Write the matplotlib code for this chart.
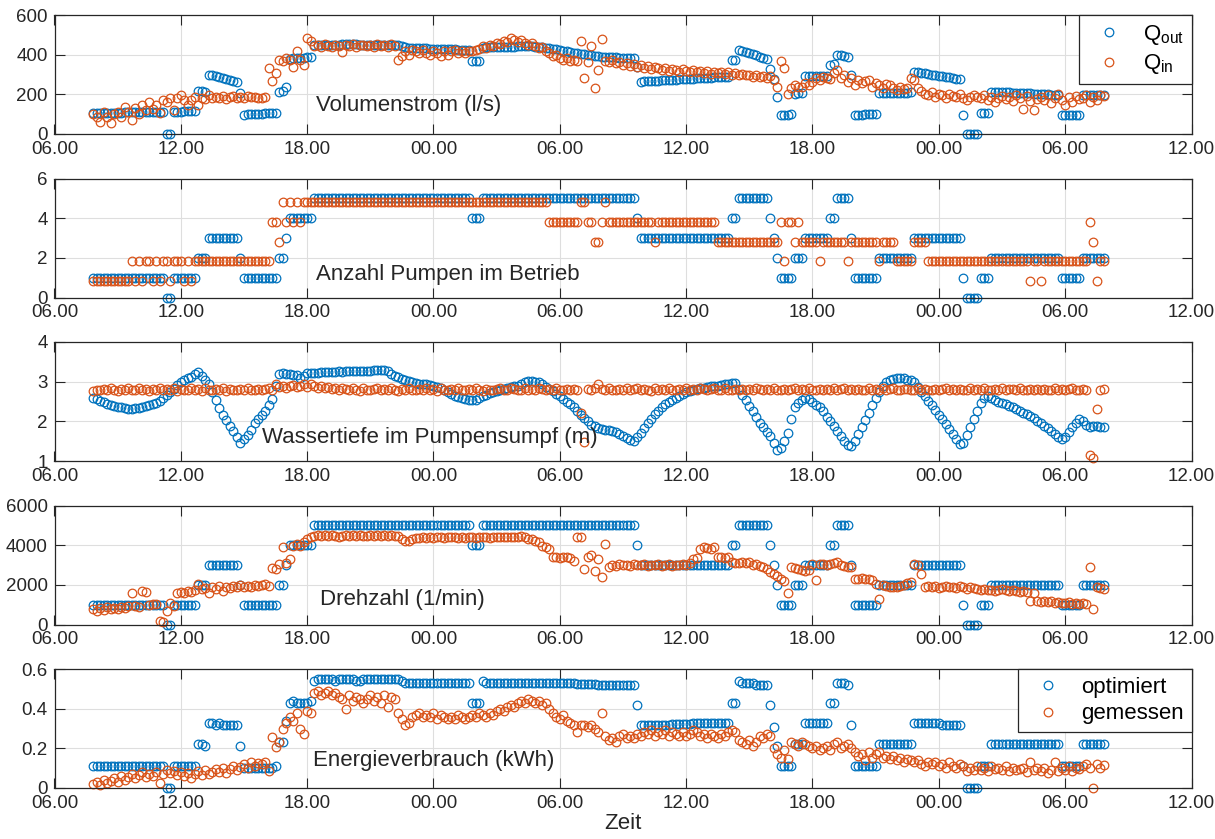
import numpy as np
import matplotlib.pyplot as plt

plt.rcParams['font.family'] = ['Liberation Sans', 'DejaVu Sans']

# Messraster: alle 10 Minuten ab 07:50 (Stunden ab Tag 1, 00:00)
T_START = 7 + 50 / 60
T_STEP = 1 / 6

X_TICKS = [6, 12, 18, 24, 30, 36, 42, 48, 54, 60]
X_LABELS = ['06.00', '12.00', '18.00', '00.00', '06.00', '12.00', '18.00', '00.00', '06.00', '12.00']

# Volumenstrom (l/s)
Q_OUT = """
105 105 106 106 107 107
108 108 108 109 109 110
110 110 111 111 111 112
112 112 112 0 0 113
113 113 114 114 115 115
218 216 214 300 296 291
287 282 277 272 267 262
205 98 99 100 101 102
103 104 105 106 108 212
215 235 380 382 383 384
385 386 387 448 449 450
450 450 451 451 451 452
452 452 452 452 451 451
451 451 450 450 450 450
449 449 448 448 445 440
436 434 433 433 432 432
431 431 430 430 429 428
428 427 426 425 424 424
370 369 368 436 437 437
438 438 439 440 440 441
441 442 442 443 443 442
441 440 438 436 433 430
427 424 420 417 413 410
407 404 401 398 396 394
392 390 389 388 387 386
385 384 383 382 381 340
264 265 266 267 268 269
270 271 272 273 274 275
276 277 278 279 280 281
282 283 284 285 286 287
288 289 372 375 425 420
414 408 402 396 390 384
378 330 275 185 97 98
98 99 204 205 205 290
290 291 292 293 293 294
350 355 398 396 392 388
298 96 97 98 99 100
100 101 205 206 206 207
207 208 208 209 209 210
315 312 309 306 303 300
297 294 291 288 285 282
279 276 94 0 0 0
0 104 105 106 214 213
212 211 211 210 209 208
207 206 205 205 204 203
202 201 200 199 198 197
94 94 95 95 96 96
196 196 197 197 198 198
198
"""

Q_IN = """
100 85 60 110 85 55
100 110 85 135 110 70
130 100 145 120 160 128
145 105 170 160 180 120
180 195 170 145 170 185
145 180 178 195 182 187
180 190 178 185 190 183
185 180 190 185 188 180
180 185 332 265 306 374
366 383 374 340 417 374
349 485 468 443 450 440
452 445 438 450 446 415
448 442 455 440 447 451
443 450 438 452 445 449
441 455 446 374 391 417
400 425 417 408 425 408
400 417 408 391 417 400
417 425 410 417 408 420
417 425 430 442 436 451
445 459 452 468 462 485
476 465 472 460 451 458
445 434 440 417 410 391
400 383 374 383 366 374
370 468 281 365 443 233
323 477 370 362 375 358
365 350 360 345 352 340
348 335 342 330 338 332
325 335 320 330 322 315
328 318 312 325 315 320
310 318 305 315 308 312
305 312 300 308 296 302
295 300 288 296 285 290
282 290 272 238 366 332
204 230 247 238 238 255
245 262 281 272 289 281
275 306 323 281 295 264
281 247 272 255 265 272
238 255 245 230 250 247
230 221 238 225 232 281
272 230 215 204 196 213
187 204 195 179 204 190
187 204 179 170 187 196
185 179 196 170 187 162
179 192 175 185 168 196
180 128 190 165 119 178
185 170 196 158 179 204
170 145 187 162 190 175
179 196 162 187 172 196
190
"""

# Anzahl Pumpen im Betrieb (optimiert: ganze Zahlen, gemessen: Stufencode)
PUMPEN_OPT = """
111111 111111 111111 111001 111111 222333 333333 211111 111112 234444
444555 555555 555555 555555 555555 555555 555555 555555 444555 555555
555555 555555 555555 555555 555555 555554 333333 333333 333333 333333
334455 555555 543211 112223 333333 445555 311111 112222 222222 333333
333333 331000 011122 222222 222222 222222 111111 222222 2
"""

PUMPEN_IN = """
111111 111112 121221 212212 221212 222222 222222 222222 222443 545454
555555 555555 555555 555555 555555 555555 555555 555555 555555 555555
555555 555544 444444 455443 345444 444444 444434 444444 444444 444433
333333 333333 333342 443433 333233 333332 333333 332333 322222 333322
222222 222222 222222 222222 222122 122222 222222 224312 2
"""
PUMPEN_IN_STUFEN = {'1': 0.82, '2': 1.82, '3': 2.82, '4': 3.82, '5': 4.82}

# Wassertiefe im Pumpensumpf (m)
TIEFE_OPT = """
2.60 2.56 2.52 2.48 2.44 2.41
2.39 2.37 2.35 2.34 2.32 2.32
2.33 2.34 2.36 2.38 2.41 2.44
2.47 2.51 2.58 2.66 2.73 2.82
2.91 3.00 3.05 3.09 3.13 3.20
3.25 3.15 3.05 2.94 2.75 2.55
2.33 2.17 2.03 1.89 1.75 1.60
1.45 1.55 1.66 1.78 1.96 2.06
2.16 2.26 2.40 2.56 2.90 3.20
3.22 3.20 3.19 3.18 3.17 3.10
3.15 3.22 3.23 3.22 3.23 3.24
3.24 3.25 3.24 3.25 3.26 3.25
3.26 3.26 3.27 3.26 3.27 3.28
3.28 3.28 3.29 3.29 3.30 3.29
3.26 3.20 3.15 3.11 3.07 3.04
3.01 2.98 2.97 2.95 2.94 2.93
2.91 2.90 2.87 2.83 2.79 2.75
2.69 2.64 2.61 2.58 2.56 2.54
2.53 2.55 2.59 2.64 2.67 2.71
2.74 2.77 2.79 2.81 2.84 2.86
2.88 2.90 2.94 2.98 3.02 3.02
3.00 2.98 2.93 2.87 2.81 2.76
2.70 2.64 2.57 2.50 2.43 2.35
2.26 2.17 2.09 2.01 1.92 1.88
1.84 1.80 1.79 1.77 1.75 1.72
1.67 1.63 1.59 1.54 1.50 1.60
1.70 1.84 1.95 2.07 2.18 2.27
2.35 2.43 2.49 2.55 2.60 2.65
2.69 2.73 2.76 2.79 2.81 2.83
2.85 2.86 2.88 2.89 2.90 2.92
2.93 2.94 2.96 2.97 2.81 2.67
2.53 2.39 2.25 2.11 1.97 1.86
1.74 1.63 1.45 1.27 1.32 1.50
1.70 2.05 2.35 2.45 2.55 2.60
2.57 2.50 2.42 2.35 2.25 2.12
2.00 1.88 1.75 1.62 1.50 1.40
1.37 1.50 1.68 1.86 2.04 2.22
2.40 2.58 2.75 2.90 3.00 3.05
3.07 3.10 3.08 3.09 3.05 3.03
2.98 2.87 2.75 2.64 2.52 2.40
2.29 2.17 2.05 1.93 1.81 1.68
1.55 1.42 1.45 1.65 1.85 2.05
2.25 2.45 2.60 2.63 2.60 2.55
2.50 2.47 2.43 2.39 2.35 2.31
2.27 2.22 2.18 2.14 2.08 2.02
1.95 1.88 1.82 1.75 1.68 1.60
1.55 1.60 1.72 1.85 1.95 2.05
2.00 1.90 1.85 1.88 1.87 1.86
1.85
"""

TIEFE_IN = """
2.76 2.80 2.78 2.82 2.79 2.83
2.80 2.77 2.82 2.79 2.84 2.80
2.78 2.83 2.79 2.81 2.77 2.82
2.80 2.84 2.78 2.81 2.79 2.83
2.77 2.82 2.80 2.78 2.83 2.79
2.81 2.77 2.84 2.80 2.78 2.82
2.79 2.83 2.77 2.81 2.80 2.78
2.82 2.79 2.83 2.78 2.80 2.82
2.79 2.81 2.84 2.80 2.95 2.86
2.90 2.84 2.88 2.92 2.86 2.89
2.93 2.87 2.95 2.90 2.85 2.88
2.84 2.87 2.82 2.85 2.80 2.83
2.82 2.79 2.84 2.80 2.77 2.83
2.80 2.78 2.82 2.85 2.79 2.81
2.78 2.83 2.80 2.77 2.82 2.79
2.84 2.80 2.78 2.82 2.79 2.83
2.79 2.81 2.77 2.83 2.80 2.78
2.82 2.79 2.84 2.80 2.78 2.81
2.80 2.83 2.79 2.77 2.82 2.80
2.78 2.81 2.83 2.79 2.80 2.84
2.81 2.78 2.80 2.83 2.79 2.82
2.79 2.84 2.81 2.78 2.82 2.80
2.83 2.79 2.80 2.82 2.78 2.81
2.80 2.22 1.49 2.82 2.79 2.83
2.94 2.81 2.78 2.83 2.80 2.79
2.82 2.80 2.84 2.78 2.81 2.83
2.79 2.82 2.80 2.77 2.83 2.80
2.81 2.78 2.83 2.80 2.79 2.82
2.80 2.83 2.79 2.81 2.78 2.84
2.82 2.79 2.81 2.84 2.80 2.78
2.83 2.80 2.78 2.82 2.79 2.81
2.80 2.82 2.79 2.83 2.81 2.78
2.82 2.79 2.84 2.80 2.78 2.82
2.79 2.81 2.83 2.78 2.82 2.80
2.83 2.79 2.80 2.82 2.78 2.81
2.80 2.84 2.79 2.81 2.83 2.78
2.81 2.78 2.82 2.80 2.79 2.83
2.79 2.82 2.80 2.84 2.78 2.81
2.83 2.80 2.78 2.81 2.82 2.79
2.80 2.83 2.79 2.82 2.80 2.78
2.82 2.79 2.81 2.84 2.79 2.81
2.78 2.82 2.80 2.79 2.83 2.80
2.81 2.79 2.83 2.80 2.78 2.82
2.80 2.84 2.79 2.81 2.82 2.78
2.83 2.80 2.78 2.82 2.79 2.81
2.79 2.82 2.80 2.78 2.83 2.80
2.82 2.79 2.81 2.83 2.80 2.78
2.81 2.79 1.15 1.07 2.30 2.79
2.81
"""

# Drehzahl (1/min); optimiert in 1000 1/min
DREHZAHL_OPT_K = """
111111 111111 111111 111001 111111 222333 333333 211111 111112 234444
444555 555555 555555 555555 555555 555555 555555 555555 444555 555555
555555 555555 555555 555555 555555 555554 333333 333333 333333 333333
334455 555555 543211 112223 333333 445555 311111 112222 222222 333333
333333 331000 011122 222222 222222 222222 111111 222222 2
"""

DREHZAHL_IN = """
760 700 820 740 880 780
850 760 900 820 950 1580
930 880 1700 1650 980 1020
1050 170 150 680 1100 950
1600 1650 1580 1700 1620 1750
2030 1780 1850 1600 1900 1800
1950 1700 1880 1820 1950 1900
2000 1870 1950 1900 2000 1950
2000 2050 1950 2870 2800 3050
3890 3100 3300 3970 4050 3950
4150 4300 4400 4480 4500 4470
4490 4460 4500 4480 4400 4470
4500 4460 4490 4470 4510 4480
4460 4500 4480 4520 4470 4490
4480 4510 4470 4450 4300 4200
4230 4300 4350 4380 4400 4380
4400 4370 4410 4390 4380 4400
4390 4410 4380 4400 4370 4390
4410 4380 4400 4420 4390 4380
4400 4420 4390 4410 4430 4400
4420 4400 4440 4410 4310 4300
4220 4140 3970 3890 3800 3400
3380 3370 3390 3380 3360 3210
4390 4400 2790 3400 3500 2700
3300 2380 4080 2890 3000 2950
3060 2980 3000 2950 3040 2990
3000 3050 2960 3020 2980 3040
2970 3000 3060 2950 3010 2990
3050 2980 3100 3300 3350 3800
3900 3880 3820 3900 3400 3380
3350 3400 3150 3120 3100 3150
3100 3130 3000 3050 2950 2900
2800 2630 2550 2450 2300 2200
1600 2900 2850 2800 2750 2720
2750 3060 2260 3050 3060 3000
3060 3100 3140 3000 2950 2900
2900 2300 2300 2320 2280 2300
2250 2040 1275 2000 1950 1870
1900 1880 1950 2000 2080 2130
3060 2980 2550 1900 1950 1870
1920 1850 1900 1960 1880 1900
1850 1920 1880 1800 1900 1850
1780 1750 1800 1720 1760 1700
1750 1780 1720 1680 1760 1700
1650 1700 1620 1190 1600 1180
1150 1190 1120 1170 1100 1150
1100 1080 1120 1050 1100 1020
1060 1050 2890 765 1870 1820
1790
"""

# Energieverbrauch (kWh)
ENERGIE_OPT = """
0.11 0.11 0.11 0.11 0.11 0.11
0.11 0.11 0.11 0.11 0.11 0.11
0.11 0.11 0.11 0.11 0.11 0.11
0.11 0.11 0.11 0 0 0.11
0.11 0.11 0.11 0.11 0.11 0.11
0.22 0.22 0.21 0.33 0.33 0.32
0.33 0.32 0.32 0.32 0.32 0.32
0.21 0.10 0.10 0.10 0.10 0.10
0.10 0.10 0.10 0.10 0.11 0.23
0.23 0.34 0.43 0.44 0.43 0.43
0.43 0.43 0.44 0.54 0.55 0.55
0.55 0.55 0.55 0.54 0.55 0.55
0.55 0.55 0.55 0.54 0.54 0.55
0.55 0.55 0.55 0.55 0.55 0.55
0.55 0.55 0.55 0.55 0.54 0.53
0.53 0.53 0.53 0.53 0.53 0.53
0.53 0.53 0.53 0.53 0.53 0.53
0.53 0.53 0.53 0.53 0.53 0.53
0.43 0.43 0.43 0.54 0.53 0.53
0.53 0.53 0.53 0.53 0.53 0.53
0.53 0.53 0.53 0.53 0.53 0.53
0.53 0.53 0.53 0.53 0.53 0.53
0.53 0.53 0.53 0.53 0.53 0.53
0.525 0.525 0.525 0.525 0.525 0.525
0.52 0.52 0.52 0.52 0.52 0.52
0.52 0.52 0.52 0.52 0.52 0.42
0.32 0.32 0.32 0.32 0.32 0.32
0.32 0.32 0.32 0.325 0.325 0.325
0.325 0.325 0.325 0.33 0.33 0.33
0.33 0.33 0.33 0.33 0.33 0.33
0.33 0.33 0.43 0.43 0.54 0.53
0.53 0.53 0.53 0.52 0.52 0.52
0.52 0.42 0.31 0.21 0.11 0.11
0.11 0.11 0.22 0.22 0.22 0.33
0.33 0.33 0.33 0.33 0.33 0.33
0.43 0.43 0.53 0.53 0.53 0.52
0.32 0.11 0.11 0.11 0.11 0.11
0.11 0.11 0.22 0.22 0.22 0.22
0.22 0.22 0.22 0.22 0.22 0.22
0.33 0.33 0.33 0.33 0.33 0.33
0.33 0.33 0.32 0.32 0.32 0.32
0.32 0.32 0.11 0 0 0
0 0.11 0.11 0.11 0.22 0.22
0.22 0.22 0.22 0.22 0.22 0.22
0.22 0.22 0.22 0.22 0.22 0.22
0.22 0.22 0.22 0.22 0.22 0.22
0.11 0.11 0.11 0.11 0.11 0.11
0.22 0.22 0.22 0.22 0.22 0.22
0.22
"""

ENERGIE_IN = """
0.02 0.03 0.015 0.04 0.025 0.035
0.05 0.03 0.06 0.04 0.055 0.07
0.05 0.065 0.08 0.055 0.07 0.06
0.08 0.025 0.07 0.09 0.075 0.085
0.065 0.08 0.06 0.075 0.05 0.07
0.085 0.065 0.09 0.07 0.08 0.095
0.08 0.10 0.075 0.095 0.11 0.09
0.105 0.12 0.10 0.13 0.11 0.125
0.12 0.13 0.085 0.255 0.205 0.23
0.30 0.33 0.36 0.34 0.38 0.30
0.27 0.39 0.38 0.48 0.49 0.47
0.48 0.49 0.47 0.48 0.46 0.45
0.40 0.47 0.44 0.46 0.45 0.43
0.45 0.47 0.44 0.46 0.43 0.47
0.41 0.46 0.45 0.38 0.35 0.32
0.33 0.36 0.37 0.38 0.36 0.37
0.36 0.38 0.35 0.37 0.36 0.35
0.36 0.35 0.37 0.36 0.35 0.36
0.37 0.36 0.38 0.37 0.36 0.38
0.37 0.39 0.40 0.39 0.41 0.42
0.41 0.43 0.44 0.43 0.45 0.44
0.43 0.44 0.42 0.43 0.40 0.38
0.36 0.35 0.37 0.34 0.33 0.32
0.28 0.32 0.32 0.31 0.32 0.30
0.28 0.38 0.26 0.24 0.25 0.23
0.26 0.27 0.25 0.26 0.25 0.27
0.26 0.28 0.27 0.29 0.26 0.28
0.27 0.29 0.26 0.28 0.27 0.26
0.28 0.26 0.27 0.29 0.28 0.26
0.27 0.25 0.27 0.26 0.25 0.27
0.26 0.28 0.29 0.28 0.24 0.23
0.22 0.24 0.21 0.23 0.26 0.25
0.27 0.26 0.20 0.17 0.15 0.19
0.145 0.23 0.22 0.21 0.23 0.22
0.21 0.20 0.21 0.19 0.20 0.21
0.19 0.22 0.23 0.20 0.21 0.22
0.20 0.18 0.16 0.17 0.14 0.18
0.15 0.17 0.18 0.15 0.16 0.145
0.16 0.14 0.15 0.13 0.145 0.14
0.13 0.14 0.12 0.11 0.13 0.12
0.13 0.11 0.12 0.10 0.13 0.11
0.10 0.12 0.11 0.085 0.10 0.09
0.11 0.09 0.10 0.085 0.11 0.095
0.10 0.09 0.11 0.085 0.10 0.09
0.095 0.10 0.08 0.13 0.09 0.10
0.085 0.10 0.075 0.09 0.13 0.085
0.10 0.09 0.11 0.085 0.10 0.095
0.11 0.12 0.10 0.0 0.12 0.10
0.115
"""

BLAU = '#0072BD'
ORANGE = '#D95319'
DUNKEL = '#262626'


def zahlen(s):
    return np.array(s.split(), dtype=float)


def ziffern(s, stufen=None):
    s = s.replace(' ', '').replace('\n', '')
    if stufen:
        return np.array([stufen[c] for c in s])
    return np.array([int(c) for c in s], dtype=float)


def zeit(y):
    return T_START + np.arange(len(y)) * T_STEP


def punkte(ax, y, farbe, label=None):
    ax.plot(zeit(y), y, ls='none', marker='o', mfc='none', mec=farbe,
            ms=6.2, mew=0.9, clip_on=False, label=label)


def stil(ax, ylim, yticks, ylabels):
    ax.set_xlim(6, 60)
    ax.set_ylim(*ylim)
    ax.set_xticks(X_TICKS)
    ax.set_xticklabels(X_LABELS)
    ax.set_yticks(yticks)
    ax.set_yticklabels(ylabels)
    ax.grid(True, color='#dedede', lw=0.8)
    ax.set_axisbelow(True)
    ax.tick_params(direction='in', length=7.5, width=0.8, top=True, right=True,
                   labelsize=13.5, colors=DUNKEL, pad=5)
    for sp in ax.spines.values():
        sp.set_color(DUNKEL)
        sp.set_linewidth(0.9)


def legende(ax, eintraege):
    leg = ax.legend(loc='upper right', borderaxespad=0, fancybox=False,
                    edgecolor=DUNKEL, framealpha=1, fontsize=16,
                    handletextpad=0.5, borderpad=0.35, labelspacing=0.25)
    leg.get_frame().set_linewidth(0.9)
    return leg


fig = plt.figure(figsize=(12.15, 8.39), dpi=100)
W, H = 1215, 839
links, rechts = 54.5, 1191.5
hoehe = 119
oben = [15, 178.5, 342, 505.5, 669]
achsen = [fig.add_axes([links / W, 1 - (o + hoehe) / H, (rechts - links) / W, hoehe / H])
          for o in oben]
ax1, ax2, ax3, ax4, ax5 = achsen

# Volumenstrom
punkte(ax1, zahlen(Q_OUT), BLAU, r'Q$_\mathregular{out}$')
punkte(ax1, zahlen(Q_IN), ORANGE, r'Q$_\mathregular{in}$')
stil(ax1, (0, 600), [0, 200, 400, 600], ['0', '200', '400', '600'])
ax1.text(18.4, 145, 'Volumenstrom (l/s)', fontsize=16, va='center', color=DUNKEL)
legende(ax1, None)

# Pumpen
punkte(ax2, ziffern(PUMPEN_OPT), BLAU)
punkte(ax2, ziffern(PUMPEN_IN, PUMPEN_IN_STUFEN), ORANGE)
stil(ax2, (0, 6), [0, 2, 4, 6], ['0', '2', '4', '6'])
ax2.text(18.4, 1.18, 'Anzahl Pumpen im Betrieb', fontsize=16, va='center', color=DUNKEL)

# Wassertiefe
punkte(ax3, zahlen(TIEFE_OPT), BLAU)
punkte(ax3, zahlen(TIEFE_IN), ORANGE)
stil(ax3, (1, 4), [1, 2, 3, 4], ['1', '2', '3', '4'])
ax3.text(15.85, 1.59, 'Wassertiefe im Pumpensumpf (m)', fontsize=16, va='center',
         color=DUNKEL, zorder=5)

# Drehzahl
punkte(ax4, ziffern(DREHZAHL_OPT_K) * 1000, BLAU)
punkte(ax4, zahlen(DREHZAHL_IN), ORANGE)
stil(ax4, (0, 6000), [0, 2000, 4000, 6000], ['0', '2000', '4000', '6000'])
ax4.text(18.6, 1270, 'Drehzahl (1/min)', fontsize=16, va='center', color=DUNKEL)

# Energieverbrauch
punkte(ax5, zahlen(ENERGIE_OPT), BLAU, 'optimiert')
punkte(ax5, zahlen(ENERGIE_IN), ORANGE, 'gemessen')
stil(ax5, (0, 0.6), [0, 0.2, 0.4, 0.6], ['0', '0.2', '0.4', '0.6'])
ax5.text(18.27, 0.141, 'Energieverbrauch (kWh)', fontsize=16, va='center', color=DUNKEL)
legende(ax5, None)
ax5.set_xlabel('Zeit', fontsize=16, color=DUNKEL, labelpad=1)

fig.savefig('out.png', dpi=100, facecolor='white')
